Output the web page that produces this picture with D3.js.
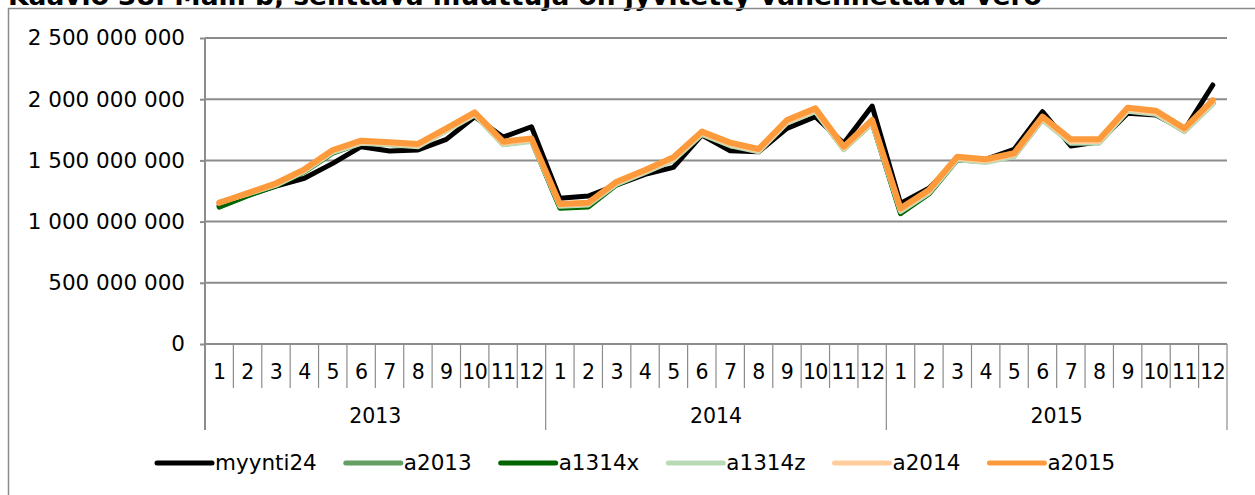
<!DOCTYPE html>
<html>
<head>
<meta charset="utf-8">
<script src="https://cdn.jsdelivr.net/npm/d3@7"></script>
<style>
  html, body { margin: 0; padding: 0; background: #fff; overflow: hidden; }
  svg { display: block; font-family: "DejaVu Sans", Verdana, sans-serif; }
</style>
</head>
<body>
<svg id="chart" width="1255" height="495"></svg>
<script>
// Kuukausittaiset arvot (miljoonina), vuodet 2013–2015
const years = ["2013", "2014", "2015"];
const months = ["1","2","3","4","5","6","7","8","9","10","11","12"];
const yTicks = [0, 500000000, 1000000000, 1500000000, 2000000000, 2500000000];

const myynti24 = [1127,1215,1290,1354,1476,1612,1577,1585,1672,1857,1690,1775,
                  1190,1209,1299,1386,1443,1707,1579,1571,1762,1857,1640,1944,
                  1149,1272,1503,1509,1590,1898,1618,1653,1885,1871,1748,2116];
const a2013    = [1135,1220,1300,1415,1570,1648,1635,1618,1748,1882,1636,1662,
                  1118,1128,1310,1412,1508,1718,1628,1578,1812,1905,1595,1810,
                  1072,1236,1512,1490,1540,1838,1650,1648,1910,1885,1742,1970];
const a1314x   = [1118,1210,1292,1405,1560,1642,1630,1615,1745,1878,1632,1660,
                  1110,1120,1300,1405,1505,1715,1625,1575,1808,1900,1592,1805,
                  1065,1225,1505,1488,1535,1835,1645,1645,1905,1880,1738,1965];
const a1314z   = [1160,1225,1298,1410,1565,1640,1628,1612,1740,1870,1628,1655,
                  1125,1136,1305,1400,1500,1712,1620,1570,1805,1898,1588,1802,
                  1082,1232,1505,1482,1532,1830,1640,1642,1902,1876,1735,1960];
const a2014    = [1150,1228,1305,1418,1575,1650,1638,1622,1750,1880,1640,1668,
                  1135,1145,1316,1410,1512,1722,1632,1580,1815,1910,1598,1815,
                  1095,1245,1518,1495,1545,1842,1655,1655,1915,1890,1748,1975];
const a2015    = [1154,1233,1313,1427,1585,1661,1648,1634,1762,1893,1653,1680,
                  1144,1154,1326,1422,1525,1735,1645,1593,1830,1925,1612,1830,
                  1108,1258,1530,1509,1558,1857,1672,1672,1931,1906,1762,1993];

const seriesNames  = ["myynti24", "a2013", "a1314x", "a1314z", "a2014", "a2015"];
const seriesValues = [myynti24, a2013, a1314x, a1314z, a2014, a2015];
const seriesColors = ["#000000", "#659f63", "#006400", "#b8dab6", "#ffcc9c", "#fd9a3c"];
const seriesWidths = [5, 5, 5, 5, 5, 6];

const svg = d3.select("#chart");
const font = "DejaVu Sans, Verdana, sans-serif";

// Otsikko
svg.append("text")
  .attr("x", 8).attr("y", 5)
  .attr("font-size", 26.5).attr("font-weight", "bold")
  .attr("fill", "#000")
  .text("Kaavio 38. Malli b, selittävä muuttuja on jyvitetty vähennettävä vero");

// Kaavioalueen kehys
svg.append("rect")
  .attr("x", 8.5).attr("y", 8.5)
  .attr("width", 1260).attr("height", 500)
  .attr("fill", "none").attr("stroke", "#8a8a8a").attr("stroke-width", 1.5);

const plotLeft = 205, plotRight = 1227, plotTop = 38, plotBottom = 344;

const periods = years.flatMap(yr => months.map(m => yr + "-" + m));
const x = d3.scaleBand().domain(periods).range([plotLeft, plotRight]).padding(0);
const y = d3.scaleLinear().domain([0, 2500000000]).range([plotBottom, plotTop]);

const fmt = d3.formatLocale({ decimal: ",", thousands: " ", grouping: [3], currency: ["", ""] }).format(",d");

// Vaakaviivat
svg.append("g").selectAll("line").data(yTicks).join("line")
  .attr("x1", plotLeft).attr("x2", plotRight)
  .attr("y1", d => y(d)).attr("y2", d => y(d))
  .attr("stroke", "#8c8c8c").attr("stroke-width", 2);

// Y-akseli
const yAxis = svg.append("g")
  .attr("transform", `translate(${plotLeft},0)`)
  .call(d3.axisLeft(y).tickValues(yTicks).tickFormat(fmt).tickSize(5).tickPadding(15));
yAxis.select(".domain").remove();
yAxis.selectAll(".tick line").attr("stroke", "#8c8c8c").attr("stroke-width", 2);
yAxis.selectAll(".tick text")
  .attr("font-family", font).attr("font-size", 21.5).attr("fill", "#000");

// X-akseli: kuukaudet ja vuodet
const xg = svg.append("g");
xg.append("line")
  .attr("x1", plotLeft).attr("x2", plotRight).attr("y1", plotBottom).attr("y2", plotBottom)
  .attr("stroke", "#8c8c8c").attr("stroke-width", 2);
xg.append("line")
  .attr("x1", plotLeft).attr("x2", plotLeft).attr("y1", plotTop).attr("y2", 430)
  .attr("stroke", "#8c8c8c").attr("stroke-width", 2);

// kuukausien väliviivat
xg.selectAll("line.msep").data(periods.slice(1)).join("line")
  .attr("class", "msep")
  .attr("x1", d => x(d)).attr("x2", d => x(d))
  .attr("y1", plotBottom).attr("y2", d => d.endsWith("-1") ? 430 : 388)
  .attr("stroke", "#8c8c8c").attr("stroke-width", 1.2);
xg.append("line")
  .attr("x1", plotRight).attr("x2", plotRight).attr("y1", plotBottom).attr("y2", 430)
  .attr("stroke", "#8c8c8c").attr("stroke-width", 1.2);

xg.selectAll("text.month").data(periods).join("text")
  .attr("class", "month")
  .attr("x", d => x(d) + x.bandwidth() / 2)
  .attr("y", 379)
  .attr("text-anchor", "middle")
  .attr("font-family", font).attr("font-size", 20.5).attr("fill", "#000")
  .attr("letter-spacing", -0.6)
  .text(d => d.split("-")[1]);

xg.selectAll("text.year").data(years).join("text")
  .attr("class", "year")
  .attr("x", d => (x(d + "-1") + x(d + "-12") + x.bandwidth()) / 2)
  .attr("y", 423)
  .attr("text-anchor", "middle")
  .attr("font-family", font).attr("font-size", 20.5).attr("fill", "#000")
  .text(d => d);

// Sarjat
const line = d3.line()
  .x((d, i) => x(periods[i]) + x.bandwidth() / 2)
  .y(d => y(d * 1e6))
  .curve(d3.curveLinear);

svg.append("g").selectAll("path").data(seriesValues).join("path")
  .attr("d", d => line(d))
  .attr("fill", "none")
  .attr("stroke", (d, i) => seriesColors[i])
  .attr("stroke-width", (d, i) => seriesWidths[i])
  .attr("stroke-linejoin", "round")
  .attr("stroke-linecap", "round");

// Selite
const legend = svg.append("g");
let lx = 157;
seriesNames.forEach((name, i) => {
  legend.append("line")
    .attr("x1", lx).attr("x2", lx + 55).attr("y1", 463).attr("y2", 463)
    .attr("stroke", seriesColors[i]).attr("stroke-width", 5)
    .attr("stroke-linecap", "round");
  const t = legend.append("text")
    .attr("x", lx + 58).attr("y", 470)
    .attr("font-family", font).attr("font-size", 21.5).attr("fill", "#000")
    .text(name);
  const w = t.node().getComputedTextLength();
  lx += 55 + 3 + w + 29;
});
</script>
</body>
</html>
